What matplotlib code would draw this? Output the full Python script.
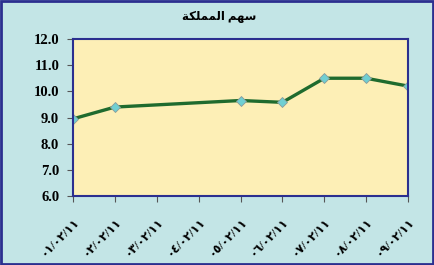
import matplotlib
matplotlib.use('Agg')
import matplotlib.pyplot as plt
from matplotlib.patches import Rectangle

# title "سهم المملكة" in visual order (presentation forms, matplotlib does no shaping)
title = '\ufe94\ufedc\ufee0\ufee4\ufee4\ufedf\ufe8d \ufee2\ufeec\ufeb3'

tick_labels = ['٠١/٠٢/١١', '٠٢/٠٢/١١', '٠٣/٠٢/١١', '٠٤/٠٢/١١', '٠٥/٠٢/١١',
               '٠٦/٠٢/١١', '٠٧/٠٢/١١', '٠٨/٠٢/١١', '٠٩/٠٢/١١']
obs_days = [1, 2, 5, 6, 7, 8, 9]
prices = [8.95, 9.4, 9.65, 9.58, 10.5, 10.5, 10.2]
yticks = [6.0, 7.0, 8.0, 9.0, 10.0, 11.0, 12.0]

bg = '#c3e5e6'
navy = '#2b2f8f'
fonts = ['Liberation Serif', 'DejaVu Sans']

fig = plt.figure(figsize=(4.35, 2.65), dpi=100, facecolor=bg)
fig.patches.append(Rectangle((0.003, 0.005), 0.993, 0.99, transform=fig.transFigure,
                             fill=False, edgecolor=navy, linewidth=2))
ax = fig.add_axes([0.168, 0.26, 0.77, 0.593])
ax.set_facecolor('#fdefb6')

ax.plot(obs_days, prices, color='#1f6b2e', linewidth=2.4, marker='D', markersize=5,
        markerfacecolor='#6fcfd2', markeredgecolor='#8a9a9a', markeredgewidth=0.6)

ax.set_xlim(1, len(tick_labels))
ax.set_ylim(6, 12)
ax.set_yticks(yticks)
ax.set_yticklabels([f'{v:.1f}' for v in yticks], family=fonts, fontweight='bold', fontsize=10.5)
ax.set_xticks(range(1, len(tick_labels) + 1))
ax.set_xticklabels(tick_labels, rotation=45, ha='right', rotation_mode='anchor',
                   family=fonts, fontweight='bold', fontsize=8.5)
ax.tick_params(axis='both', colors='#555555', length=4, width=0.8)
ax.tick_params(axis='both', labelcolor='black')
ax.tick_params(axis='y', pad=6)
ax.tick_params(axis='x', pad=10)
for s in ax.spines.values():
    s.set_color(navy)
    s.set_linewidth(1.5)

fig.text(0.503, 0.936, title, ha='center', va='center', family=fonts,
         fontweight='bold', fontsize=8.5)

fig.savefig('out.png', dpi=100, facecolor=bg)
